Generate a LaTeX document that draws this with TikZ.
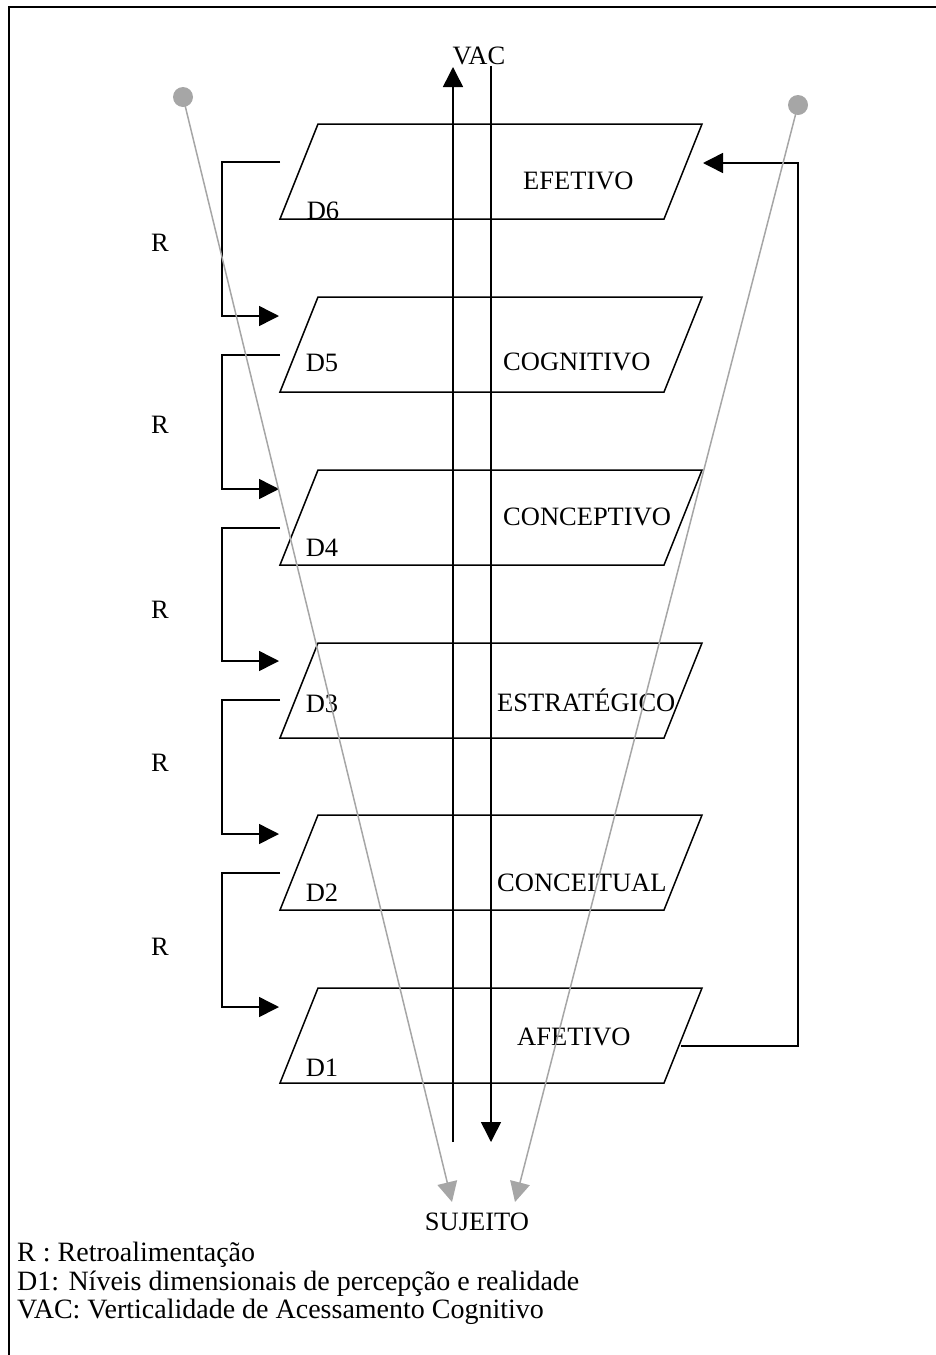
\documentclass[tikz,border=0pt]{standalone}
\usepackage{fontspec}
\setmainfont{Liberation Serif}
\usetikzlibrary{arrows.meta}
\definecolor{graylink}{HTML}{A6A6A6}
\begin{document}
\begin{tikzpicture}[x=1pt,y=-1pt,
  lbl/.style={font=\fontsize{26.5}{29}\selectfont, inner sep=0pt},
  legend/.style={font=\fontsize{28}{30}\selectfont, inner sep=0pt, anchor=base west},
  para/.style={draw=black, line width=1.5pt, line join=miter},
  blk/.style={draw=black, line width=1.5pt},
  tipb/.style={-{Triangle[length=20pt,width=20pt]}},
  probe/.style={draw=graylink, line width=1.5pt, -{Triangle[length=20pt,width=20pt]}},
  dotnode/.style={circle, fill=graylink, minimum size=20pt, inner sep=0pt}
]
\useasboundingbox (0,0) rectangle (936,1355);
% frame
\draw[line width=2.5pt] (9,1355) -- (9,7) -- (936,7);

% parallelograms
\foreach \i/\y in {6/124,5/297,4/470,3/643,2/815,1/988}{
  \draw[para] (318,\y) -- (702,\y) -- (664,{\y+95}) -- (280,{\y+95}) -- cycle;
}

% level labels
\node[lbl] (d6) at (323,211) {D6};
\node[lbl] (d5) at (322,363) {D5};
\node[lbl] (d4) at (322,548) {D4};
\node[lbl] (d3) at (322,704) {D3};
\node[lbl] (d2) at (322,893) {D2};
\node[lbl] (d1) at (322,1068) {D1};

\node[lbl, anchor=west] (efetivo) at (523,181) {EFETIVO};
\node[lbl, anchor=west] (cognitivo) at (503,362) {COGNITIVO};
\node[lbl, anchor=west] (conceptivo) at (503,517) {CONCEPTIVO};
\node[lbl, anchor=west] (estrategico) at (497,700) {ESTRATÉGICO};
\node[lbl, anchor=west] (conceitual) at (497,883) {CONCEITUAL};
\node[lbl, anchor=west] (afetivo) at (517,1037) {AFETIVO};

% R labels
\foreach \n/\y in {1/243,2/425,3/610,4/763,5/947}{
  \node[lbl] (r\n) at (160,\y) {R};
}

% feedback brackets
\foreach \n/\a/\b in {1/162/316,2/355/489,3/528/661,4/700/834,5/873/1007}{
  \coordinate (bs\n) at (280,\a);
  \coordinate (be\n) at (279,\b);
  \draw[blk,tipb] (bs\n) -- (222,\a) -- (222,\b) -- (be\n);
}

% right feedback from AFETIVO to EFETIVO
\coordinate (fbs) at (681,1046);
\coordinate (fbe) at (703,163);
\draw[blk,tipb] (fbs) -- (798,1046) -- (798,163) -- (fbe);

% VAC axis
\node[lbl] (vac) at (479,56) {VAC};
\coordinate (upbot) at (453,1142);
\coordinate (uptop) at (453,67);
\draw[blk,tipb] (upbot) -- (uptop);
\coordinate (dntop) at (491,66);
\coordinate (dnbot) at (491,1142);
\draw[blk,tipb] (dntop) -- (dnbot);

% subject
\node[lbl] (sujeito) at (477,1222) {SUJEITO};
\node[dotnode] (dl) at (183,97) {};
\node[dotnode] (dr) at (798,105) {};
\coordinate (sl) at (452,1202);
\coordinate (sr) at (515,1202);
\draw[probe] (dl.center) -- (sl);
\draw[probe] (dr.center) -- (sr);

% legend
\node[legend] (leg1) at (17,1261) {R : Retroalimentação};
\node[legend] (leg2) at (17,1290) {D1: Níveis dimensionais de percepção e realidade};
\node[legend] (leg3) at (17,1318) {VAC: Verticalidade de Acessamento Cognitivo};
\end{tikzpicture}
\end{document}
